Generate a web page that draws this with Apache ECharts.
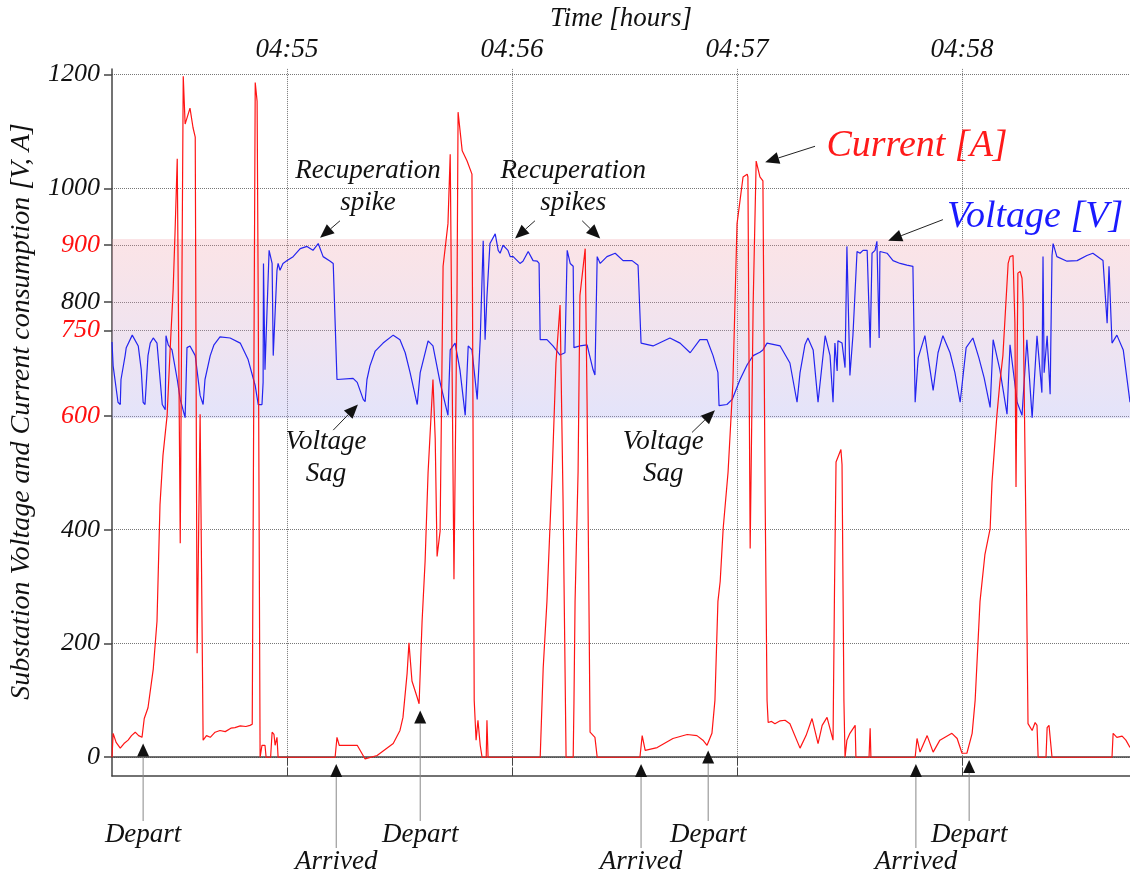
<!DOCTYPE html>
<html>
<head>
<meta charset="utf-8">
<title>Substation voltage and current</title>
<script src="https://cdn.jsdelivr.net/npm/echarts@6/dist/echarts.min.js"></script>
<style>
html,body{margin:0;padding:0;background:#fff;}
#chart{width:1130px;height:878px;}
</style>
</head>
<body>
<div id="chart"></div>
<script>
// time is in seconds after 04:54:00
var currentT = [13.3,13.6,14.4,15.5,16.5,17.6,18.5,19.5,20.4,21.3,21.9,22.9,24.3,25.3,26.1,26.9,28.0,28.8,29.6,30.1,30.7,31.5,32.3,32.8,34.1,34.9,35.5,36.0,36.8,37.6,38.5,39.5,40.8,42.1,43.5,45.0,46.1,47.5,49.0,50.1,50.7,51.5,52.0,52.3,52.8,53.3,54.1,54.4,55.6,56.0,56.5,56.8,57.3,57.6,
    72.8,73.3,73.9,78.7,80.8,84.0,88.3,90.1,90.9,92.0,92.5,93.3,94.7,95.2,96.0,96.8,97.6,98.9,99.5,100.0,100.8,101.6,102.9,103.5,104.0,104.5,105.3,105.6,106.7,108.0,109.3,109.9,110.4,110.9,111.5,112.0,113.1,113.3,113.6,
    127.5,128.3,129.3,130.7,131.7,132.8,133.6,134.4,136.3,136.5,136.8,137.6,138.1,139.5,140.0,140.5,140.8,142.1,142.7,
    154.1,154.7,155.5,158.7,162.9,166.7,169.3,170.9,172.0,173.3,174.1,174.9,175.5,176.3,177.6,178.9,180.0,181.6,182.7,182.9,183.5,184.3,185.1,186.1,186.9,187.5,188.0,188.3,189.2,190.1,191.5,192.8,194.1,196.8,198.4,200.0,201.6,202.7,204.0,205.6,206.0,206.4,206.9,207.7,208.0,208.5,208.8,209.3,210.1,211.5,211.7,215.2,215.5,215.7,
    227.5,228.0,228.8,230.7,232.3,234.1,237.3,238.7,240.0,241.3,242.7,243.5,244.8,246.1,247.5,248.0,249.3,250.1,250.9,252.3,252.8,253.6,254.1,254.4,254.9,255.5,256.0,256.3,257.1,257.3,257.6,258.7,259.5,260.0,260.3,262.4,262.7,263.2,264.0,
    280.0,280.3,281.3,282.7,283.7,284.8];
var currentA = [0,42,26,16,24,30,38,44,38,35,68,87,155,239,444,531,601,716,821,920,1052,376,1197,1113,1141,1107,1090,183,603,30,38,35,44,47,45,51,52,55,54,56,58,1186,1153,798,0,21,21,0,0,44,40,21,35,0,
    0,35,21,21,-3,3,24,47,70,147,201,134,105,94,239,344,501,664,560,353,397,863,938,1060,1057,313,798,1134,1066,1048,1025,100,30,65,21,0,0,65,0,
    0,157,274,501,693,795,449,0,0,94,274,501,812,894,624,274,44,35,0,
    0,38,12,17,33,40,38,30,21,42,100,274,309,402,501,659,938,1020,1025,1020,367,798,1048,1020,1013,449,100,61,63,59,64,65,59,16,38,68,24,56,70,30,300,519,519,541,514,100,0,30,42,56,0,0,51,0,
    0,33,9,38,9,30,42,33,7,7,42,100,274,356,402,484,601,659,706,868,880,882,763,475,851,854,842,798,370,239,59,47,61,56,0,0,52,56,0,
    0,42,35,37,30,17];

var voltageT = [13.3,13.6,14.9,15.5,15.7,16.8,17.1,18.7,20.3,21.1,21.6,22.1,22.9,23.5,24.3,25.3,26.7,27.5,27.7,28.3,29.3,30.7,31.5,32.8,33.3,34.1,35.5,36.8,37.6,38.1,39.5,40.5,42.1,44.8,47.5,49.6,51.5,52.3,53.3,53.6,53.7,54.1,55.2,56.0,56.3,56.8,57.3,57.6,58.1,58.9,60.0,61.6,63.5,65.3,66.9,68.3,69.6,71.5,72.3,
    73.3,77.6,78.7,80.3,80.8,81.3,82.1,83.5,85.6,88.3,90.1,91.5,92.8,94.7,95.5,97.6,98.9,100.8,102.9,103.5,104.8,106.1,107.5,108.3,109.3,110.7,111.5,112.3,112.8,113.3,114.1,115.5,116.3,116.8,117.6,118.9,119.5,120.3,122.1,122.9,124.3,125.6,126.7,127.2,
    127.5,129.3,130.9,132.8,134.1,134.7,135.5,136.3,136.5,138.1,140.0,141.6,142.1,142.7,143.5,145.3,147.5,149.6,152.0,153.6,
    154.4,157.6,162.1,164.8,167.5,170.1,172.0,173.6,174.9,175.2,177.3,178.7,180.8,182.7,184.3,186.1,186.9,188.0,191.5,194.1,196.0,196.8,197.6,198.1,198.9,200.3,201.6,203.5,204.8,205.6,206.1,206.7,206.9,208.0,208.8,
    209.3,210.1,210.9,212.0,212.8,213.6,214.7,215.5,216.0,216.8,217.3,217.9,218.1,220.0,221.6,223.5,225.3,226.9,
    227.5,228.3,230.1,232.3,233.6,234.9,236.8,238.1,239.5,241.1,242.9,244.5,245.9,247.5,248.3,250.1,252.0,252.8,254.7,256.0,257.3,258.7,260.0,261.3,261.6,261.9,262.7,263.5,
    264.0,264.3,265.3,268.0,270.7,273.3,274.9,277.6,278.7,279.2,280.0,281.3,283.0,284.8];
var voltageV = [730,688,624,620,664,706,720,742,723,681,624,620,706,728,737,728,620,611,741,725,716,664,629,597,720,723,706,636,620,664,706,725,739,737,728,699,653,620,620,659,868,681,891,868,706,707,856,868,856,868,873,880,894,898,891,903,880,872,868,
    664,666,659,629,625,664,688,714,728,742,734,711,676,620,676,732,723,659,601,716,728,681,601,723,716,629,734,908,734,810,903,920,891,886,900,891,880,880,868,872,889,873,872,868,
    734,734,723,707,711,891,868,863,720,723,725,681,672,880,868,880,886,873,873,865,
    728,723,737,728,711,734,734,706,676,618,620,629,664,690,706,712,716,728,723,693,624,676,706,725,737,716,624,741,706,624,728,679,732,728,685,
    898,671,741,889,886,891,891,720,886,891,907,737,889,886,873,868,865,863,
    624,702,741,645,711,741,711,676,624,720,737,702,667,615,734,681,603,725,624,601,734,597,741,641,880,676,741,638,
    882,903,880,872,873,882,886,873,763,863,728,742,716,624];

var yTicks = [0, 200, 400, 600, 750, 800, 900, 1000, 1200];
var redTicks = [600, 750, 900];
var timeTicks = [60, 120, 180, 240];
var band = [596, 911];

// text notes: [text, colour, size, x, y, arrows [[fromX, fromY, toX, toY]]]
var notes = [
    ['Recuperation\nspike', '#111', 27, 81.6, 1003, [[74.1, 943, 68.8, 913]]],
    ['Recuperation\nspikes', '#111', 27, 136.3, 1003, [[126.1, 943, 120.8, 912], [138.7, 943, 143.5, 912]]],
    ['Current [A]', '#ff1a1a', 38, 228.0, 1074, [[200.8, 1074, 187.5, 1046]]],
    ['Voltage [V]', '#1a1aff', 38, 259.5, 950, [[234.9, 945, 220.3, 908]]],
    ['Voltage\nSag', '#111', 27, 70.4, 526, [[72.3, 575, 78.9, 620]]],
    ['Voltage\nSag', '#111', 27, 160.3, 526, [[168.0, 571, 174.1, 610]]]
];
// stops under the axis: [text, time, tip value]
var stops = [
    ['Depart', 21.6, 24], ['Arrived', 73.1, -12], ['Depart', 95.5, 82], ['Arrived', 154.4, -12],
    ['Depart', 172.3, 12], ['Arrived', 227.7, -12], ['Depart', 241.9, -5]
];

(function () {
    "use strict";
    var FONT = '"Liberation Serif", "Times New Roman", serif';

    var zip = function (xs, ys) {
        var out = [];
        for (var i = 0; i < xs.length; i++) {
            out.push([xs[i], ys[i]]);
        }
        return out;
    };

    var timeLabel = function (v) {
        return '04:' + (54 + Math.round(v / 60));
    };

    var chart = echarts.init(document.getElementById('chart'), null, {renderer: 'canvas'});

    var option = {
        animation: false,
        backgroundColor: '#fff',
        grid: {left: 112, right: 0, top: 65, bottom: 102},
        xAxis: [{
            type: 'value', position: 'top', min: 13.3, max: 284.8,
            name: 'Time [hours]', nameLocation: 'middle', nameGap: 33,
            nameTextStyle: {fontFamily: FONT, fontStyle: 'italic', fontSize: 27, color: '#111'},
            axisLine: {show: true, lineStyle: {color: '#444', width: 1.5}},
            axisTick: {show: true, inside: true, length: 8, customValues: timeTicks, lineStyle: {color: '#444'}},
            axisLabel: {customValues: timeTicks, formatter: timeLabel, margin: 5,
                fontFamily: FONT, fontStyle: 'italic', fontSize: 27, color: '#111'},
            splitLine: {show: true, lineStyle: {type: 'dotted', color: '#777', width: 1}}
        }, {
            type: 'value', position: 'bottom', min: 13.3, max: 284.8,
            axisLine: {show: true, onZero: false, lineStyle: {color: '#444', width: 1.5}},
            axisTick: {show: true, inside: true, length: 8, customValues: timeTicks, lineStyle: {color: '#444'}},
            axisLabel: {show: false},
            splitLine: {show: false}
        }],
        yAxis: {
            type: 'value', min: -33, max: 1210,
            name: 'Substation Voltage and Current consumption [V, A]',
            nameLocation: 'middle', nameGap: 76,
            nameTextStyle: {fontFamily: FONT, fontStyle: 'italic', fontSize: 28, color: '#111', padding: [0, 0, 0, 22]},
            axisLine: {show: true, onZero: false, lineStyle: {color: '#444', width: 1.5}},
            axisTick: {show: true, length: 8, customValues: yTicks, lineStyle: {color: '#444', width: 1.5}},
            axisLabel: {
                customValues: yTicks, margin: 12,
                formatter: function (v) {
                    return redTicks.indexOf(v) >= 0 ? '{r|' + v + '}' : '{k|' + v + '}';
                },
                rich: {
                    r: {color: '#ff1010', fontFamily: FONT, fontStyle: 'italic', fontSize: 26},
                    k: {color: '#111', fontFamily: FONT, fontStyle: 'italic', fontSize: 26}
                }
            },
            splitLine: {show: true, lineStyle: {type: 'dotted', color: '#777', width: 1}}
        },
        series: [{
            name: 'Voltage',
            type: 'line',
            data: zip(voltageT, voltageV),
            showSymbol: false,
            lineStyle: {color: '#2424f0', width: 1.2},
            itemStyle: {color: '#2424f0'},
            z: 3,
            markArea: {
                silent: true,
                itemStyle: {
                    color: new echarts.graphic.LinearGradient(0, 0, 0, 1, [
                        {offset: 0, color: 'rgba(240,150,160,0.26)'},
                        {offset: 1, color: 'rgba(170,170,240,0.32)'}
                    ])
                },
                data: [[{yAxis: band[0]}, {yAxis: band[1]}]]
            }
        }, {
            name: 'Current',
            type: 'line',
            data: zip(currentT, currentA),
            showSymbol: false,
            lineStyle: {color: '#ff1414', width: 1.2},
            itemStyle: {color: '#ff1414'},
            z: 4
        }]
    };
    chart.setOption(option);

    // annotations, placed from data coordinates
    var px = function (t, v) {
        return chart.convertToPixel({xAxisIndex: 0, yAxisIndex: 0}, [t, v]);
    };
    var arrow = function (from, to, lineColor, headColor, len, half) {
        var dx = to[0] - from[0], dy = to[1] - from[1];
        var d = Math.sqrt(dx * dx + dy * dy);
        var ux = dx / d, uy = dy / d;
        var base = [to[0] - ux * len, to[1] - uy * len];
        return [{
            type: 'line', silent: true, z: 100,
            shape: {x1: from[0], y1: from[1], x2: base[0], y2: base[1]},
            style: {stroke: lineColor, lineWidth: 1}
        }, {
            type: 'polygon', silent: true, z: 100,
            shape: {points: [to, [base[0] - uy * half, base[1] + ux * half], [base[0] + uy * half, base[1] - ux * half]]},
            style: {fill: headColor}
        }];
    };

    var graphics = [];
    notes.forEach(function (n) {
        var p = px(n[3], n[4]);
        graphics.push({
            type: 'text', silent: true, z: 100, x: p[0], y: p[1],
            style: {text: n[0], fill: n[1], fontFamily: FONT, fontStyle: 'italic', fontSize: n[2],
                lineHeight: Math.round(n[2] * 1.18), align: 'center', verticalAlign: 'middle'}
        });
        n[5].forEach(function (a) {
            graphics = graphics.concat(arrow(px(a[0], a[1]), px(a[2], a[3]), '#222', '#111', 14, 6));
        });
    });
    stops.forEach(function (s) {
        var tip = px(s[1], s[2]);
        var textY = s[0] === 'Depart' ? 835 : 862;
        graphics = graphics.concat(arrow([tip[0], textY - 14], tip, '#888', '#111', 13, 6));
        graphics.push({
            type: 'text', silent: true, z: 100, x: tip[0], y: textY,
            style: {text: s[0], fill: '#111', fontFamily: FONT, fontStyle: 'italic', fontSize: 27,
                align: 'center', verticalAlign: 'middle'}
        });
    });
    chart.setOption({graphic: graphics});
})();
</script>
</body>
</html>
